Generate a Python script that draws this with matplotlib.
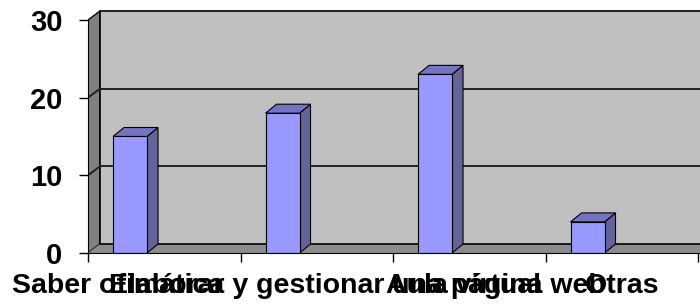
import matplotlib.pyplot as plt
from matplotlib.patches import Polygon, Rectangle

categories = ['Saber ofimática', 'Elaborar y gestionar una página web', 'Aula virtual', 'Otras']
values = [15, 18, 23, 4]
y_ticks = [0, 10, 20, 30]

plt.rcParams['font.family'] = ['Liberation Sans', 'DejaVu Sans']
plt.rcParams['font.weight'] = 'bold'

W, H = 700, 306
fig = plt.figure(figsize=(7, 3.06), dpi=100)
ax = fig.add_axes([88 / W, 53 / H, 612 / W, 244 / H])

# pixel scales (front plane)
px_x = 152.5
px_y = 233 / 30
n = len(categories)
xmax = 612 / px_x
ymax = 244 / px_y
ax.set_xlim(0, xmax)
ax.set_ylim(0, ymax)

# depth offset of the 3d box
dx, dy = 12 / px_x, 9 / px_y
bdx, bdy = 11 / px_x, 9 / px_y
top = y_ticks[-1]

# walls
ax.add_patch(Polygon([(0, 0), (dx, dy), (dx, top + dy), (0, top)],
                     fc='#808080', ec='black', lw=1, zorder=1))
ax.add_patch(Polygon([(0, 0), (xmax + 1, 0), (xmax + 1, dy), (dx, dy)],
                     fc='#8c8c8c', ec='none', zorder=1))
ax.add_patch(Rectangle((dx, dy), xmax, top, fc='#c0c0c0', ec='black', lw=1.2, zorder=1))

# gridlines on back and side wall
for v in y_ticks[1:-1]:
    ax.plot([0, dx], [v, v + dy], color='#222222', lw=1.4, zorder=2)
    ax.plot([dx, xmax + 1], [v + dy, v + dy], color='#222222', lw=1.4, zorder=2)

# 3d columns
bw, boff = 0.223, 0.164
for i, v in enumerate(values):
    x0 = i + boff
    ax.add_patch(Polygon([(x0 + bw, 0), (x0 + bw + bdx, bdy), (x0 + bw + bdx, v + bdy), (x0 + bw, v)],
                         fc='#646499', ec='black', lw=0.8, zorder=3))
    ax.add_patch(Polygon([(x0, v), (x0 + bw, v), (x0 + bw + bdx, v + bdy), (x0 + bdx, v + bdy)],
                         fc='#7474c4', ec='black', lw=0.8, zorder=3))
    ax.add_patch(Rectangle((x0, 0), bw, v, fc='#9999ff', ec='black', lw=0.8, zorder=4))

ax.spines['top'].set_visible(False)
ax.spines['right'].set_visible(False)
ax.spines['left'].set_bounds(0, top)
ax.spines['left'].set_zorder(5)
ax.spines['bottom'].set_zorder(5)

ax.set_yticks(y_ticks)
ax.set_yticklabels([str(t) for t in y_ticks])
ax.tick_params(axis='y', length=6.5, width=1, pad=12, labelsize=21)

ax.set_xticks(range(n + 1))
ax.set_xticklabels([''] * (n + 1))
ax.tick_params(axis='x', which='major', length=6.5, width=1)

# category labels, nudged the way the source chart placed them (they overlap there too)
label_shift = [-33, 29, -4, 0]
for i, cat in enumerate(categories):
    ax.annotate(cat, xy=(i + 0.5, 0), xycoords=('data', 'axes fraction'),
                xytext=(label_shift[i], -29), textcoords='offset points',
                ha='center', va='baseline', fontsize=20.5, annotation_clip=False)

fig.savefig('out.png', dpi=100)
